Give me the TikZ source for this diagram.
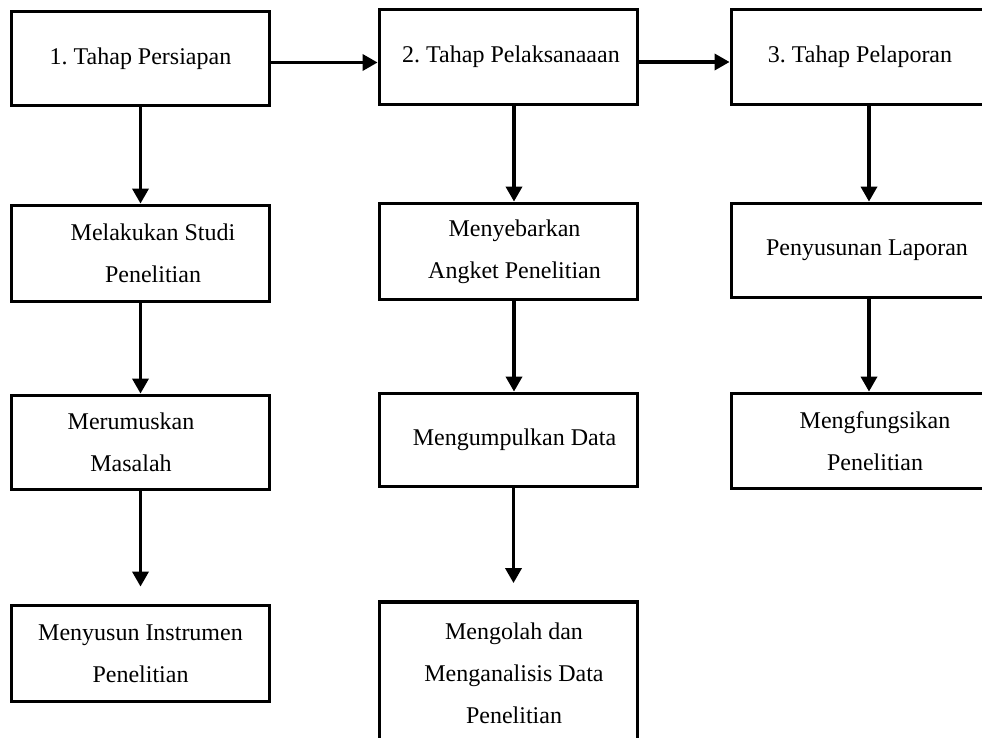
\documentclass[tikz,border=0pt]{standalone}
\usepackage{fontspec}
\setmainfont{Liberation Serif}
\usetikzlibrary{arrows.meta}
\newcommand\shl[2]{\hspace*{#1}#2}
\frenchspacing
\begin{document}
\begin{tikzpicture}[x=1pt,y=-1pt,
  box/.style={draw, line width=3.8pt, minimum width=258pt, inner sep=0pt,
    align=center, font=\fontsize{24}{42}\selectfont},
  conn/.style={line width=3.4pt, -{Triangle[length=15pt,width=16pt]}}]
\useasboundingbox (0,0) rectangle (982,738);
% column 1
\node[box, minimum height=94pt] (p1) at (140.5,58.5) {1. Tahap Persiapan};
\node[box, minimum height=96pt] (p1a) at (140.5,253.5) {\shl{25pt}{Melakukan Studi}\\\shl{25pt}{Penelitian}};
\node[box, minimum height=94pt] (p1b) at (140.5,442.5) {\shl{-19pt}{Merumuskan}\\\shl{-19pt}{Masalah}};
\node[box, minimum height=96pt] (p1c) at (140.5,653.5) {Menyusun Instrumen\\Penelitian};
% column 2
\node[box, minimum height=95pt] (p2) at (508.5,57) {\shl{5pt}{2. Tahap Pelaksanaaan}};
\node[box, minimum height=96pt] (p2a) at (508.5,251.5) {\shl{12pt}{Menyebarkan}\\\shl{12pt}{Angket Penelitian}};
\node[box, minimum height=93pt] (p2b) at (508.5,440) {\shl{12pt}{Mengumpulkan Data}};
\node[box, minimum height=142pt] (p2c) at (508.5,673) {\shl{11pt}{Mengolah dan}\\\shl{11pt}{Menganalisis Data}\\\shl{11pt}{Penelitian}};
% column 3
\node[box, minimum width=257pt, minimum height=95pt] (p3) at (860,57) {3. Tahap Pelaporan};
\node[box, minimum width=257pt, minimum height=94pt] (p3a) at (860,250.5) {\shl{14pt}{Penyusunan Laporan}};
\node[box, minimum width=257pt, minimum height=95pt] (p3b) at (860,441) {\shl{30pt}{Mengfungsikan}\\\shl{30pt}{Penelitian}};
% connectors
\draw[conn] ([yshift=-4pt]p1.east) -- ([yshift=-4pt]p1.east -| p2.west);
\draw[conn] ([yshift=-5pt]p2.east) -- ([yshift=-5pt]p2.east -| p3.west);
\draw[conn] (p1.south) -- (p1a.north);
\draw[conn] (p1a.south) -- (p1b.north);
\draw[conn, shorten >=17pt] (p1b.south) -- (p1c.north);
\draw[conn] ([xshift=5.5pt]p2.south) -- ([xshift=5.5pt]p2a.north);
\draw[conn] ([xshift=5.5pt]p2a.south) -- ([xshift=5.5pt]p2b.north);
\draw[conn, shorten >=17pt] ([xshift=5pt]p2b.south) -- ([xshift=5pt]p2c.north);
\draw[conn] ([xshift=9pt]p3.south) -- ([xshift=9pt]p3a.north);
\draw[conn] ([xshift=9pt]p3a.south) -- ([xshift=9pt]p3b.north);
\end{tikzpicture}
\end{document}
